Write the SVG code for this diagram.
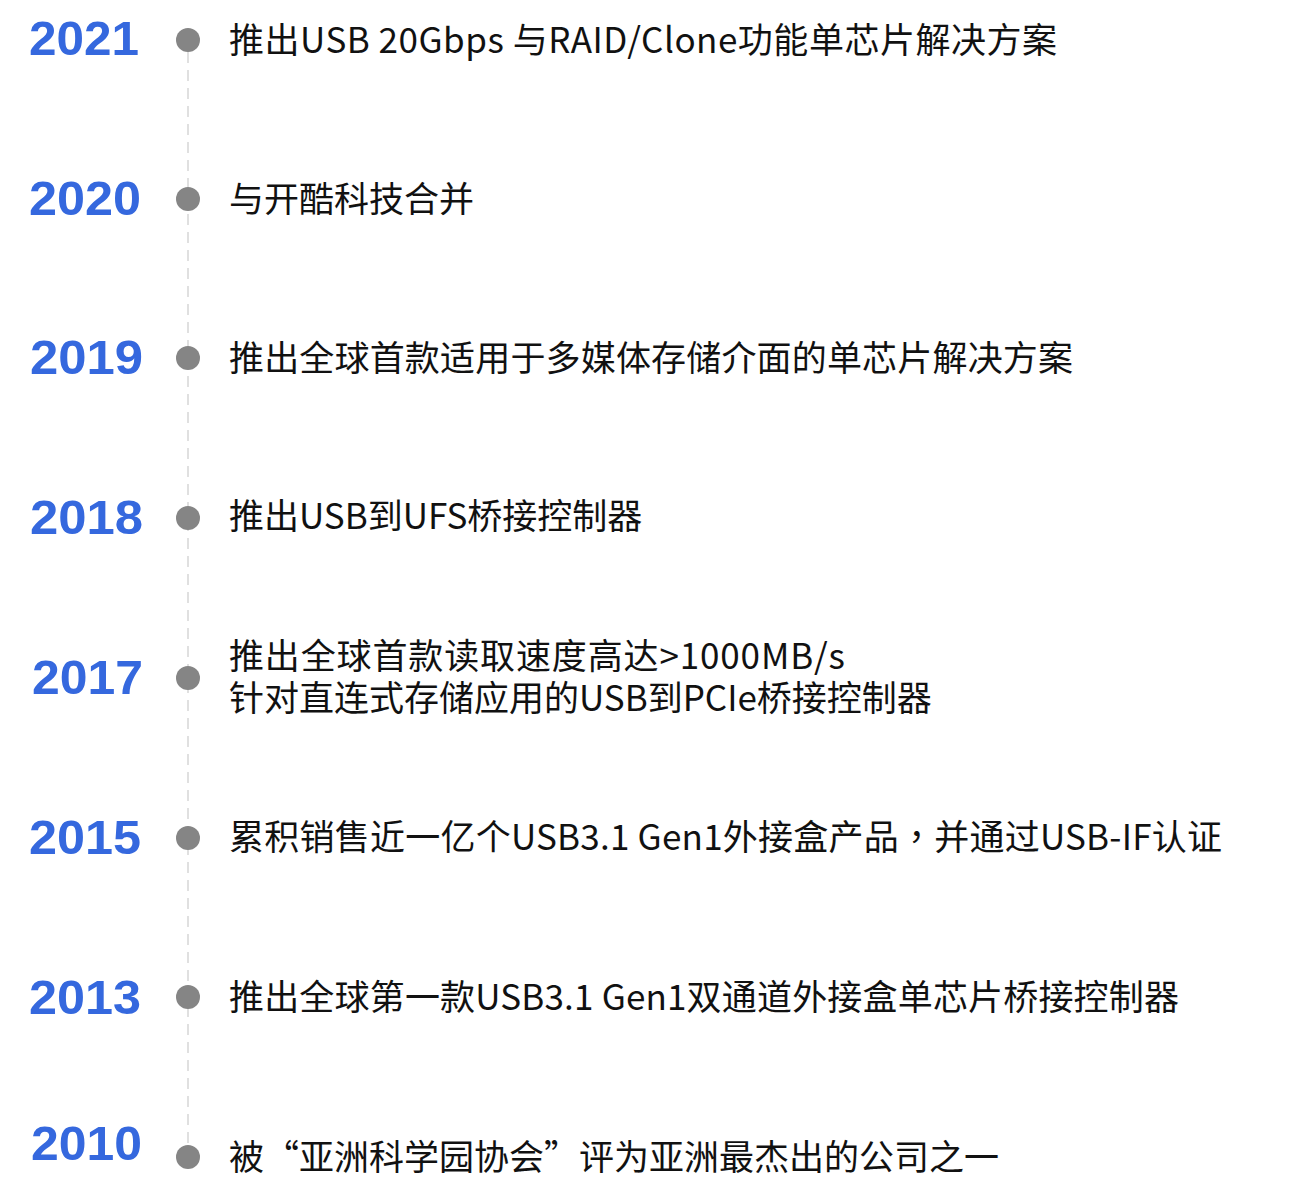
<svg xmlns="http://www.w3.org/2000/svg" width="1296" height="1200" viewBox="0 0 1296 1200">
<style>
.yr{font-family:"Liberation Sans",Arial,sans-serif;font-weight:bold;font-size:48px;fill:#3568DE}
.tx{font-family:"Noto Sans CJK SC","Noto Sans",sans-serif;font-size:35px;fill:#111}
.tc{font-family:"Noto Sans CJK TC","Noto Sans CJK SC",sans-serif}
.dot{fill:#858585}
.line{stroke:#e0e0e0;stroke-width:2;stroke-dasharray:11 7;fill:none}
</style>
<rect width="1296" height="1200" fill="#fff"/>
<g id="connectors">
<line class="line" x1="188" y1="52" x2="188" y2="1146"/>
</g>
<g id="n2021"><text class="yr" x="29" y="55" textLength="110" lengthAdjust="spacingAndGlyphs">2021</text><circle class="dot" cx="188" cy="40" r="12"/><text class="tx" x="229" y="53" textLength="828">推出USB 20Gbps 与RAID/Clone功能单芯片解决方案</text></g>
<g id="n2020"><text class="yr" x="29" y="215" textLength="112" lengthAdjust="spacingAndGlyphs">2020</text><circle class="dot" cx="188" cy="199" r="12"/><text class="tx" x="229" y="212">与开酷科技合并</text></g>
<g id="n2019"><text class="yr" x="30" y="374" textLength="113" lengthAdjust="spacingAndGlyphs">2019</text><circle class="dot" cx="188" cy="358" r="12"/><text class="tx" x="229" y="371" textLength="844">推出全球首款适用于多媒体存储介面的单芯片解决方案</text></g>
<g id="n2018"><text class="yr" x="30" y="534" textLength="113" lengthAdjust="spacingAndGlyphs">2018</text><circle class="dot" cx="188" cy="518" r="12"/><text class="tx" x="229" y="529">推出USB到UFS桥接控制器</text></g>
<g id="n2017"><text class="yr" x="32" y="694" textLength="111" lengthAdjust="spacingAndGlyphs">2017</text><circle class="dot" cx="188" cy="678" r="12"/><text class="tx"><tspan x="229" y="669" textLength="616">推出全球首款读取速度高达&gt;1000MB/s</tspan><tspan x="229" y="711">针对直连式存储应用的USB到PCIe桥接控制器</tspan></text></g>
<g id="n2015"><text class="yr" x="29" y="854" textLength="112" lengthAdjust="spacingAndGlyphs">2015</text><circle class="dot" cx="188" cy="838" r="12"/><text class="tx" x="229" y="850" textLength="993">累积销售近一亿个USB3.1 Gen1外接盒产品<tspan class="tc">，</tspan>并通过USB-IF认证</text></g>
<g id="n2013"><text class="yr" x="29" y="1014" textLength="112" lengthAdjust="spacingAndGlyphs">2013</text><circle class="dot" cx="188" cy="997" r="12"/><text class="tx" x="229" y="1010" textLength="950">推出全球第一款USB3.1 Gen1双通道外接盒单芯片桥接控制器</text></g>
<g id="n2010"><text class="yr" x="31" y="1160" textLength="111" lengthAdjust="spacingAndGlyphs">2010</text><circle class="dot" cx="188" cy="1157" r="12"/><text class="tx" x="229" y="1170">被“亚洲科学园协会”评为亚洲最杰出的公司之一</text></g>
</svg>
